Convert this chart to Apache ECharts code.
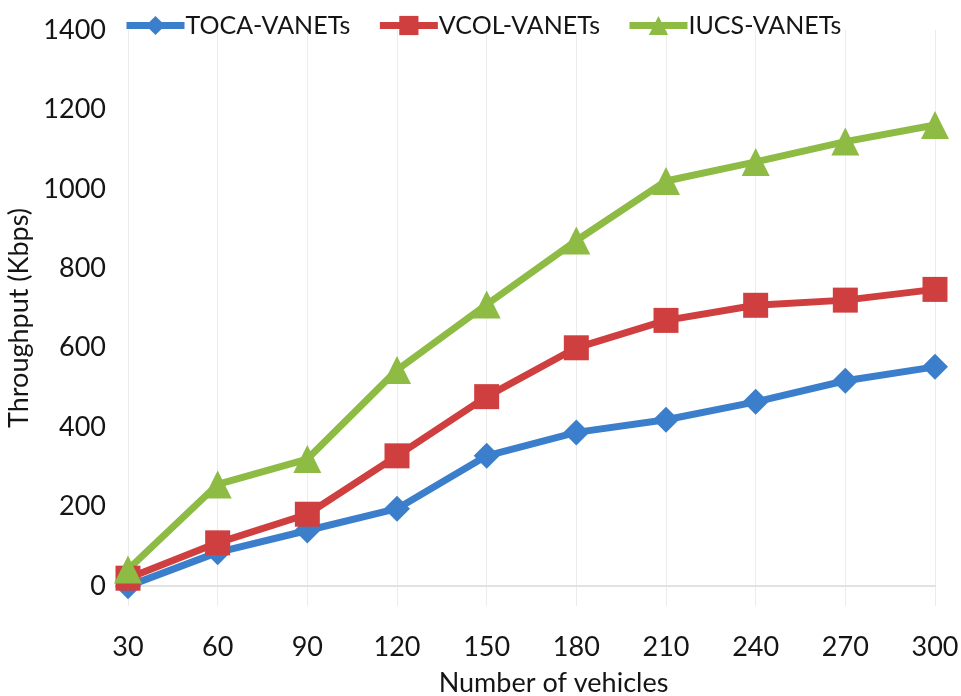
<!DOCTYPE html>
<html>
<head>
<meta charset="utf-8">
<script src="https://cdn.jsdelivr.net/npm/echarts@6/dist/echarts.min.js"></script>
<style>
  html, body { margin: 0; padding: 0; background: #fff; }
  #chart { width: 961px; height: 696px; }
</style>
</head>
<body>
<div id="chart"></div>
<script>
// x categories (number of vehicles)
const vehicles = [30, 60, 90, 120, 150, 180, 210, 240, 270, 300];
// throughput in Kbps
const toca = [0, 85, 140, 195, 328, 387, 419, 464, 517, 552];
const vcol = [20, 109, 181, 328, 477, 600, 669, 707, 720, 747];
const iucs = [42, 256, 320, 544, 709, 870, 1020, 1068, 1119, 1161];
const yTicks = [0, 200, 400, 600, 800, 1000, 1200, 1400];

const FONT = "Lato";
const TXT = "#151515";

const chart = echarts.init(document.getElementById("chart"), null, { renderer: "canvas" });

const pairs = (vals) => vehicles.map((v, i) => [v, vals[i]]);

const mkSeries = (name, vals, color, symbol, size) => ({
  name,
  type: "line",
  data: pairs(vals),
  symbol,
  symbolSize: size,
  lineStyle: { color, width: 7 },
  itemStyle: { color },
  emphasis: { disabled: true },
});

chart.setOption({
  backgroundColor: "#fff",
  animation: false,
  textStyle: { fontFamily: FONT },
  grid: { left: 128, right: 26, top: 30, bottom: 90, outerBoundsMode: "none" },
  legend: {
    top: 8,
    left: 118,
    itemWidth: 58,
    itemHeight: 24,
    itemGap: 26,
    lineStyle: { width: 7 },
    textStyle: { color: TXT, fontSize: 25, fontFamily: FONT, padding: [0, 0, 0, -4] },
    data: ["TOCA-VANETs", "VCOL-VANETs", "IUCS-VANETs"],
  },
  xAxis: {
    type: "value",
    min: 30,
    max: 300,
    interval: 30,
    name: "Number of vehicles",
    nameLocation: "middle",
    nameGap: 64,
    nameTextStyle: { color: TXT, fontSize: 27, fontFamily: FONT, padding: [0, 0, 0, 44] },
    axisLine: { show: true, lineStyle: { color: "#e2e2e2", width: 2 } },
    axisTick: { show: false },
    axisLabel: { color: TXT, fontSize: 27, fontFamily: FONT, margin: 28 },
    splitLine: { show: true, lineStyle: { color: "#ececec", width: 1 } },
  },
  yAxis: {
    type: "value",
    min: -50,
    max: 1400,
    name: "Throughput (Kbps)",
    nameLocation: "middle",
    nameGap: 86,
    nameTextStyle: { color: TXT, fontSize: 27, fontFamily: FONT },
    axisLine: { show: false },
    axisTick: { show: false },
    axisLabel: {
      color: TXT,
      fontSize: 27,
      fontFamily: FONT,
      margin: 22,
      customValues: yTicks,
      formatter: (v) => String(v),
    },
    splitLine: { show: false },
  },
  series: [
    mkSeries("TOCA-VANETs", toca, "#3b7fcc", "diamond", 26),
    mkSeries("VCOL-VANETs", vcol, "#cf3f3f", "rect", 25),
    mkSeries("IUCS-VANETs", iucs, "#8dbb44", "triangle", 28),
  ],
});
</script>
</body>
</html>
